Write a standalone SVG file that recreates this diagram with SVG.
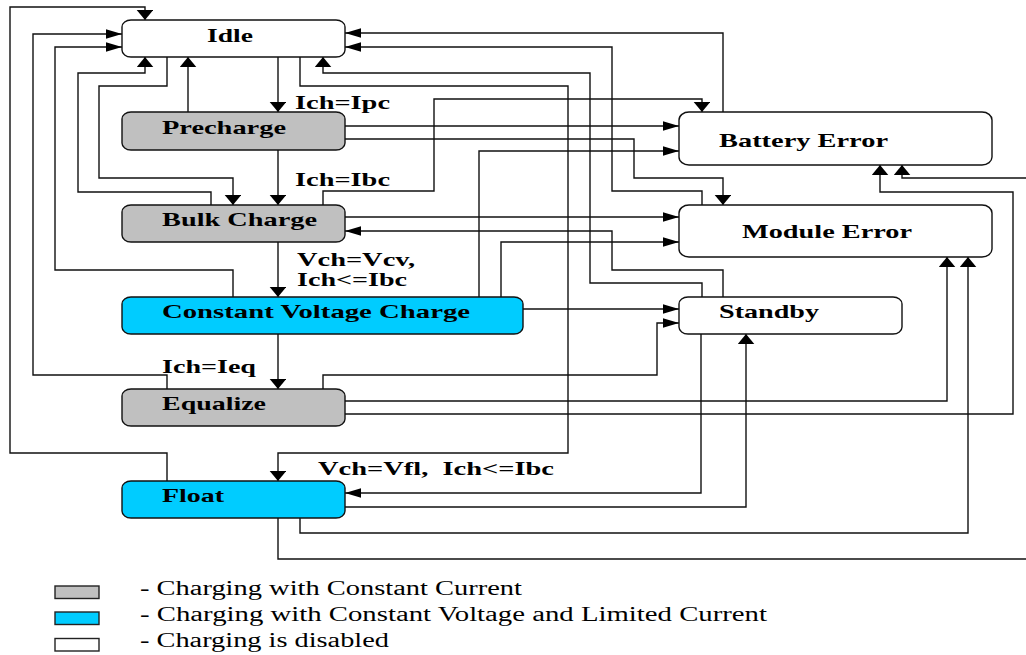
<svg xmlns="http://www.w3.org/2000/svg" width="1026" height="655" viewBox="0 0 1026 655">
<style>
.node{stroke:#111;stroke-width:1.4}
.white{fill:#fff}
.gray{fill:#c0c0c0}
.cyan{fill:#00ccff}
.lbl{font-family:"Liberation Serif","Times New Roman",serif;font-weight:bold;font-size:19px;fill:#000}
.leg{font-family:"Liberation Serif","Times New Roman",serif;font-size:20px;fill:#000}
#connectors path{fill:none;stroke:#111;stroke-width:1.4}
.h{marker-end:url(#ah)}
.v{marker-end:url(#av)}
</style>
<defs>
<marker id="ah" markerWidth="17" markerHeight="10" refX="16" refY="4.75" orient="auto" markerUnits="userSpaceOnUse"><path d="M0,0 L16,4.75 L0,9.5 z" fill="#000"/></marker>
<marker id="av" markerWidth="11" markerHeight="17" refX="10" refY="8.3" orient="auto" markerUnits="userSpaceOnUse"><path d="M0,0 L10,8.3 L0,16.6 z" fill="#000"/></marker>
</defs>
<rect width="1026" height="655" fill="#fff"/>
<g id="connectors">
<path class="v" d="M278,57 V112"/>
<path class="v" d="M278,150 V205"/>
<path class="v" d="M278,242 V297"/>
<path class="v" d="M278,334 V389"/>
<path class="v" d="M188,112 V57"/>
<path class="v" d="M167,57 V86 H99 V178 H233 V205"/>
<path class="v" d="M211,205 V192 H78 V73 H145 V57"/>
<path class="h" d="M233,297 V270 H55 V47 H122"/>
<path class="h" d="M167,389 V375 H33 V34 H122"/>
<path class="v" d="M167,481 V453 H10 V7 H145 V20"/>
<path class="v" d="M300,57 V86 H568 V453 H278 V481"/>
<path class="h" d="M723,112 V33 H345"/>
<path class="h" d="M702,205 V191 H612 V47 H345"/>
<path class="v" d="M702,297 V283 H590 V73 H323 V57"/>
<path class="h" d="M345,126 H679"/>
<path class="v" d="M345,139 H634 V178 H723 V205"/>
<path class="v" d="M323,205 V191 H434 V99 H702 V112"/>
<path class="h" d="M345,217 H679"/>
<path class="h" d="M723,297 V270 H612 V231 H345"/>
<path class="h" d="M479,297 V151 H679"/>
<path class="h" d="M501,297 V242 H679"/>
<path class="h" d="M523,309 H679"/>
<path class="h" d="M323,389 V375 H657 V323 H679"/>
<path class="v" d="M345,401 H947 V257"/>
<path class="v" d="M345,414 H1013 V192 H880 V165"/>
<path class="h" d="M701,334 V493 H345"/>
<path class="v" d="M345,507 H746 V334"/>
<path class="v" d="M300,518 V533 H968 V257"/>
<path class="v" d="M278,518 V559 H1026 M1026,178 H902 V165"/>
</g>
<g id="idle"><rect class="node white" x="122" y="20" width="223" height="37" rx="9" ry="7"/><text class="lbl" x="207" y="42" textLength="46" lengthAdjust="spacingAndGlyphs">Idle</text></g>
<g id="precharge"><rect class="node gray" x="122" y="112" width="223" height="38" rx="9" ry="7"/><text class="lbl" x="162" y="134" textLength="124" lengthAdjust="spacingAndGlyphs">Precharge</text></g>
<g id="bulk"><rect class="node gray" x="122" y="205" width="223" height="37" rx="9" ry="7"/><text class="lbl" x="162" y="226" textLength="155" lengthAdjust="spacingAndGlyphs">Bulk Charge</text></g>
<g id="cvc"><rect class="node cyan" x="122" y="297" width="401" height="37" rx="9" ry="7"/><text class="lbl" x="162" y="318" textLength="308" lengthAdjust="spacingAndGlyphs">Constant Voltage Charge</text></g>
<g id="equalize"><rect class="node gray" x="122" y="389" width="223" height="37" rx="9" ry="7"/><text class="lbl" x="162" y="410" textLength="104" lengthAdjust="spacingAndGlyphs">Equalize</text></g>
<g id="float"><rect class="node cyan" x="122" y="481" width="223" height="37" rx="9" ry="7"/><text class="lbl" x="162" y="502" textLength="62" lengthAdjust="spacingAndGlyphs">Float</text></g>
<g id="battery-error"><rect class="node white" x="679" y="112" width="313" height="53" rx="10" ry="8"/><text class="lbl" x="719" y="147" textLength="169" lengthAdjust="spacingAndGlyphs">Battery Error</text></g>
<g id="module-error"><rect class="node white" x="679" y="205" width="313" height="52" rx="10" ry="8"/><text class="lbl" x="742" y="238" textLength="170" lengthAdjust="spacingAndGlyphs">Module Error</text></g>
<g id="standby"><rect class="node white" x="679" y="297" width="223" height="37" rx="9" ry="7"/><text class="lbl" x="719" y="318" textLength="100" lengthAdjust="spacingAndGlyphs">Standby</text></g>
<g id="labels">
<text class="lbl" x="295" y="109" textLength="95" lengthAdjust="spacingAndGlyphs">Ich=Ipc</text>
<text class="lbl" x="295" y="186" textLength="95" lengthAdjust="spacingAndGlyphs">Ich=Ibc</text>
<text class="lbl" x="297" y="266" textLength="118" lengthAdjust="spacingAndGlyphs">Vch=Vcv,</text>
<text class="lbl" x="297" y="286" textLength="110" lengthAdjust="spacingAndGlyphs">Ich&lt;=Ibc</text>
<text class="lbl" x="162" y="373" textLength="94" lengthAdjust="spacingAndGlyphs">Ich=Ieq</text>
<text class="lbl" x="318" y="475" textLength="236" lengthAdjust="spacingAndGlyphs" xml:space="preserve">Vch=Vfl,  Ich&lt;=Ibc</text>
</g>
<g id="legend">
<rect x="55" y="586" width="44" height="12.5" fill="#c0c0c0" stroke="#222" stroke-width="1.4"/>
<rect x="55" y="612" width="44" height="12.5" fill="#00ccff" stroke="#222" stroke-width="1.4"/>
<rect x="55" y="638.5" width="44" height="12.5" fill="#fff" stroke="#222" stroke-width="1.4"/>
<text class="leg" x="140" y="595" textLength="382" lengthAdjust="spacingAndGlyphs">- Charging with Constant Current</text>
<text class="leg" x="140" y="621" textLength="627" lengthAdjust="spacingAndGlyphs">- Charging with Constant Voltage and Limited Current</text>
<text class="leg" x="140" y="647" textLength="249" lengthAdjust="spacingAndGlyphs">- Charging is disabled</text>
</g>
</svg>
